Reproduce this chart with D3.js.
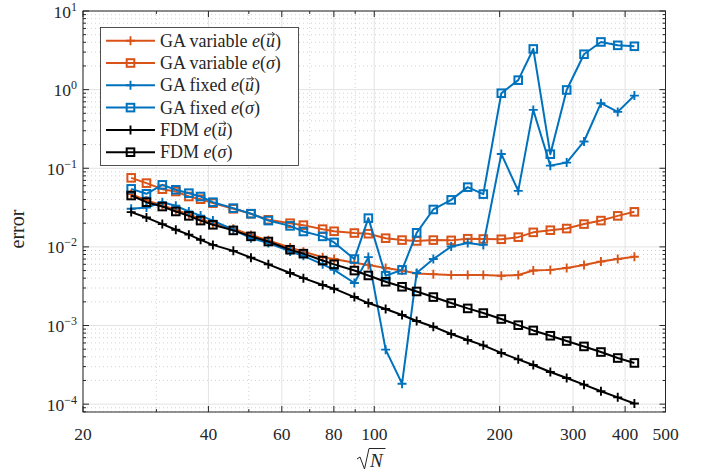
<!DOCTYPE html>
<html>
<head>
<meta charset="utf-8">
<script src="https://cdn.jsdelivr.net/npm/d3@7"></script>
<style>
  html, body { margin: 0; padding: 0; background: #fff; }
  svg { display: block; }
  text { font-family: "Liberation Serif", "DejaVu Serif", serif; fill: #262626; }
</style>
</head>
<body>
<svg id="chart" width="709" height="473"></svg>
<script>
"use strict";

// ── data ──────────────────────────────────────────────────────────────────────
const sqrtN = [26.1, 28.4, 31.0, 33.4, 35.9, 38.3, 41.0, 45.9, 50.6, 55.7, 62.8, 67.6,
  75.2, 80.1, 89.6, 96.8, 106.5, 116.6, 126.4, 138.6, 153, 167.6, 182.7, 201.8,
  221.6, 240.8, 264.6, 289.6, 318.7, 350, 384, 421];

const gaVarU = [0.047, 0.039, 0.034, 0.0295, 0.026, 0.0225, 0.020, 0.017, 0.0142, 0.0121,
  0.0098, 0.0087, 0.0074, 0.0070, 0.0063, 0.0059, 0.0054, 0.0050, 0.0046, 0.0045, 0.0044,
  0.0044, 0.0044, 0.0043, 0.0044, 0.0050, 0.0051, 0.0054, 0.0059, 0.0065, 0.0070, 0.0075];

const gaVarS = [0.0755, 0.0647, 0.0542, 0.0506, 0.0437, 0.0404, 0.036, 0.0305, 0.0264,
  0.0221, 0.020, 0.0189, 0.0168, 0.0158, 0.0150, 0.0147, 0.0129, 0.0122, 0.0119, 0.0122,
  0.0121, 0.0127, 0.0126, 0.0125, 0.0133, 0.0153, 0.0163, 0.0171, 0.0195, 0.0216, 0.0248, 0.0279];

const gaFixU = [0.0305, 0.0317, 0.037, 0.0333, 0.0282, 0.025, 0.0216, 0.0165, 0.0129,
  0.0112, 0.00875, 0.0077, 0.0060, 0.0051, 0.00347, 0.00741, 0.000493, 0.000182, 0.00465,
  0.0070, 0.0101, 0.0112, 0.0106, 0.152, 0.0516, 0.552, 0.108, 0.118, 0.219, 0.672, 0.521, 0.84];

const gaFixS = [0.0547, 0.0473, 0.0615, 0.0532, 0.0482, 0.0437, 0.037, 0.0311, 0.0264,
  0.0216, 0.0185, 0.0157, 0.0136, 0.0114, 0.0070, 0.0232, 0.0043, 0.0051, 0.0151, 0.0299,
  0.0396, 0.0575, 0.0469, 0.90, 1.32, 3.29, 0.151, 0.99, 2.82, 4.04, 3.66, 3.56];

const fdmU = [0.0277, 0.0236, 0.0195, 0.0165, 0.0143, 0.0123, 0.0106, 0.0089, 0.0073,
  0.0060, 0.00465, 0.0040, 0.00327, 0.00294, 0.0023, 0.00193, 0.00162, 0.00136, 0.00114,
  0.000966, 0.00078, 0.000654, 0.000559, 0.000448, 0.000371, 0.000315, 0.000256, 0.000215,
  0.000177, 0.000146, 0.000122, 0.000102];

const fdmS = [0.045, 0.037, 0.0326, 0.0282, 0.0248, 0.0216, 0.0191, 0.0162, 0.0136,
  0.0117, 0.0092, 0.0082, 0.0067, 0.0060, 0.0050, 0.00433, 0.0036, 0.00311, 0.00271,
  0.0023, 0.00193, 0.00165, 0.00144, 0.00121, 0.00101, 0.000866, 0.000741, 0.000635,
  0.000542, 0.00046, 0.000386, 0.000334];

const xTicks = [20, 40, 60, 80, 100, 200, 300, 400, 500];
const yExps  = [-4, -3, -2, -1, 0, 1];

const series = [
  { name: "GA variable", sym: "u", marker: "plus",   color: "#D95319", values: gaVarU },
  { name: "GA variable", sym: "s", marker: "square", color: "#D95319", values: gaVarS },
  { name: "GA fixed",    sym: "u", marker: "plus",   color: "#0072BD", values: gaFixU },
  { name: "GA fixed",    sym: "s", marker: "square", color: "#0072BD", values: gaFixS },
  { name: "FDM",         sym: "u", marker: "plus",   color: "#000000", values: fdmU },
  { name: "FDM",         sym: "s", marker: "square", color: "#000000", values: fdmS },
];

// ── layout ────────────────────────────────────────────────────────────────────
const plot = { left: 83, right: 665.5, top: 11, bottom: 412 };

const svg = d3.select("#chart");

const x = d3.scaleLog().domain([20, 500]).range([plot.left, plot.right]);
const y = d3.scaleLog().domain([Math.pow(10, -4.1), 10]).range([plot.bottom, plot.top]);

// minor values
const xMinor = [30, 50, 70, 90];
const yMinor = [];
for (let e = -5; e <= 0; e++) {
  for (let k = 2; k <= 9; k++) {
    const v = k * Math.pow(10, e);
    if (v >= y.domain()[0] && v <= 10) yMinor.push(v);
  }
}

// ── grid ──────────────────────────────────────────────────────────────────────
const grid = svg.append("g");
grid.selectAll(".gxm").data(xMinor).enter().append("line")
  .attr("x1", d => x(d)).attr("x2", d => x(d))
  .attr("y1", plot.top).attr("y2", plot.bottom)
  .attr("stroke", "#c8c8c8").attr("stroke-width", 0.8).attr("stroke-dasharray", "1,3");
grid.selectAll(".gym").data(yMinor).enter().append("line")
  .attr("x1", plot.left).attr("x2", plot.right)
  .attr("y1", d => y(d)).attr("y2", d => y(d))
  .attr("stroke", "#c8c8c8").attr("stroke-width", 0.8).attr("stroke-dasharray", "1,3");
grid.selectAll(".gx").data(xTicks).enter().append("line")
  .attr("x1", d => x(d)).attr("x2", d => x(d))
  .attr("y1", plot.top).attr("y2", plot.bottom)
  .attr("stroke", "#e3e3e3").attr("stroke-width", 1);
grid.selectAll(".gy").data(yExps).enter().append("line")
  .attr("x1", plot.left).attr("x2", plot.right)
  .attr("y1", d => y(Math.pow(10, d))).attr("y2", d => y(Math.pow(10, d)))
  .attr("stroke", "#e3e3e3").attr("stroke-width", 1);

// ── series ────────────────────────────────────────────────────────────────────
const line = d3.line().x(d => x(d[0])).y(d => y(d[1]));

function drawMarker(g, type, color) {
  if (type === "plus") {
    g.append("path").attr("d", "M-4.5,0H4.5M0,-4.5V4.5")
      .attr("stroke", color).attr("stroke-width", 1.9).attr("fill", "none");
  } else {
    g.append("rect").attr("x", -3.8).attr("y", -3.8).attr("width", 7.6).attr("height", 7.6)
      .attr("stroke", color).attr("stroke-width", 2).attr("fill", "none");
  }
}

const dataG = svg.append("g");
series.forEach(s => {
  const pts = sqrtN.map((v, i) => [v, s.values[i]]);
  dataG.append("path").datum(pts)
    .attr("d", line).attr("fill", "none")
    .attr("stroke", s.color).attr("stroke-width", 2).attr("stroke-linejoin", "round");
  pts.forEach(p => {
    const m = dataG.append("g").attr("transform", `translate(${x(p[0])},${y(p[1])})`);
    drawMarker(m, s.marker, s.color);
  });
});

// ── axes (MATLAB style: box, inward ticks) ────────────────────────────────────
const axG = svg.append("g");
const axisColor = "#262626";

function ticksX(vals, len) {
  vals.forEach(v => {
    axG.append("line").attr("x1", x(v)).attr("x2", x(v))
      .attr("y1", plot.bottom).attr("y2", plot.bottom - len).attr("stroke", axisColor);
    axG.append("line").attr("x1", x(v)).attr("x2", x(v))
      .attr("y1", plot.top).attr("y2", plot.top + len).attr("stroke", axisColor);
  });
}
function ticksY(vals, len) {
  vals.forEach(v => {
    axG.append("line").attr("x1", plot.left).attr("x2", plot.left + len)
      .attr("y1", y(v)).attr("y2", y(v)).attr("stroke", axisColor);
    axG.append("line").attr("x1", plot.right).attr("x2", plot.right - len)
      .attr("y1", y(v)).attr("y2", y(v)).attr("stroke", axisColor);
  });
}
ticksX(xTicks, 6);
ticksX(xMinor, 3);
ticksY(yExps.map(e => Math.pow(10, e)), 6);
ticksY(yMinor, 3);

axG.append("rect")
  .attr("x", plot.left).attr("y", plot.top)
  .attr("width", plot.right - plot.left).attr("height", plot.bottom - plot.top)
  .attr("fill", "none").attr("stroke", axisColor).attr("stroke-width", 1);

// x tick labels
axG.selectAll(".xl").data(xTicks).enter().append("text")
  .attr("x", d => x(d)).attr("y", 440)
  .attr("text-anchor", "middle").attr("font-size", 17.5)
  .text(d => d);

// y tick labels
yExps.forEach(e => {
  const t = axG.append("text")
    .attr("x", 77).attr("y", y(Math.pow(10, e)) + 6.5)
    .attr("text-anchor", "end").attr("font-size", 17.5);
  t.append("tspan").text("10");
  t.append("tspan").attr("dy", -7).attr("font-size", 12)
    .text(e < 0 ? "\u2212" + Math.abs(e) : String(e));
});

// axis titles
svg.append("text")
  .attr("transform", "translate(24,229) rotate(-90)")
  .attr("text-anchor", "middle").attr("font-size", 20)
  .text("error");

// sqrt(N): radical drawn as a path, N as italic text
const nT = svg.append("text").attr("x", 370).attr("y", 467)
  .attr("font-size", 19).attr("font-style", "italic").text("N");
const nBox = nT.node().getBBox();
const rTop = 448.5;
svg.append("path")
  .attr("d", `M357,459 L360,457 L364.5,469 L369,${rTop} L${nBox.x + nBox.width + 1.5},${rTop}`)
  .attr("fill", "none").attr("stroke", "#262626").attr("stroke-width", 1)
  .attr("stroke-linejoin", "miter");

// ── legend ────────────────────────────────────────────────────────────────────
const leg = svg.append("g");
leg.append("rect").attr("x", 100.5).attr("y", 27.5).attr("width", 198).attr("height", 138)
  .attr("fill", "#fff").attr("stroke", axisColor).attr("stroke-width", 0.8);

series.forEach((s, i) => {
  const ly = 40.7 + i * 22.3;
  leg.append("line").attr("x1", 106).attr("x2", 155).attr("y1", ly).attr("y2", ly)
    .attr("stroke", s.color).attr("stroke-width", 2);
  drawMarker(leg.append("g").attr("transform", `translate(130.5,${ly})`), s.marker, s.color);
  const t = leg.append("text").attr("x", 160).attr("y", ly + 6).attr("font-size", 18);
  const pre = s.name + " ";
  t.append("tspan").text(pre);
  t.append("tspan").attr("font-style", "italic").text("e");
  t.append("tspan").text("(");
  t.append("tspan").attr("font-style", "italic").text(s.sym === "u" ? "u" : "\u03C3");
  t.append("tspan").text(")");
  if (s.sym === "u") {
    // vector arrow over u
    const ext = t.node().getExtentOfChar(pre.length + 2);
    const x0 = ext.x + 1.5, x1 = ext.x + ext.width - 0.5;
    const ay = ly - 6.5;
    leg.append("path")
      .attr("d", `M${x0},${ay} H${x1} M${x1 - 2.5},${ay - 2.2} L${x1},${ay} L${x1 - 2.5},${ay + 2.2}`)
      .attr("fill", "none").attr("stroke", "#262626").attr("stroke-width", 0.9);
  }
});
</script>
</body>
</html>
